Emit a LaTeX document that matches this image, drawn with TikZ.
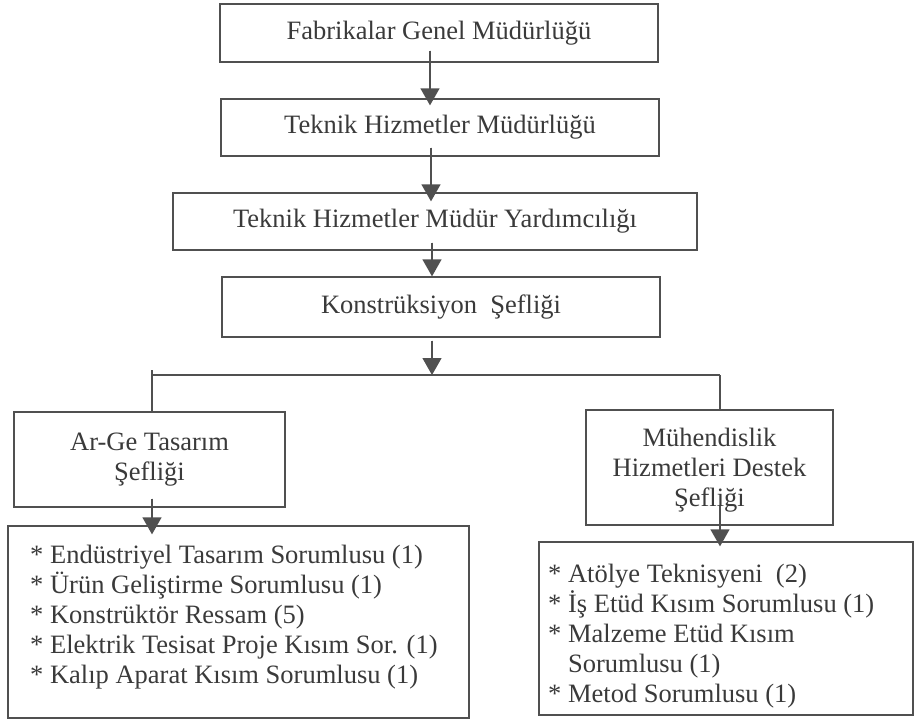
\documentclass[tikz,border=0pt]{standalone}
\usepackage{fontspec}
\setmainfont{Liberation Serif}
\usetikzlibrary{arrows.meta}
\definecolor{ink}{HTML}{3A3A3A}
\definecolor{edge}{HTML}{505050}
\begin{document}
\begin{tikzpicture}[x=1pt,y=-1pt,
  font=\fontsize{26.5}{30}\selectfont,
  box/.style={draw=edge,line width=1.3pt,text=ink,minimum width=#1,inner sep=0pt,align=center},
  listbox/.style={draw=edge,line width=1.3pt,text=ink,inner sep=0pt,align=left},
  conn/.style={draw=edge,line width=1.3pt},
  arr/.style={conn,-{Triangle[width=19pt,length=17pt]},fill=edge}]
\useasboundingbox (0,0) rectangle (914,721);
\node[box=438pt,minimum height=58pt] (B1) at (439,33) {Fabrikalar Genel Müdürlüğü};
\node[box=438pt,minimum height=57pt] (B2) at (440,127.5) {Teknik Hizmetler Müdürlüğü};
\node[box=524pt,minimum height=57pt] (B3) at (435,221.5) {Teknik Hizmetler Müdür Yardımcılığı};
\node[box=438pt,minimum height=60pt] (B4) at (441,307) {Konstrüksiyon\ \ Şefliği};
\node[box=271pt,minimum height=95pt] (AG) at (149.5,459.5)
 {\begin{tabular}{@{}c@{}}Ar-Ge Tasarım\\Şefliği\end{tabular}};
\node[box=247pt,minimum height=115pt] (MH) at (709.5,467.5)
 {\raisebox{-3pt}[\height][\depth]{\begin{tabular}{@{}c@{}}Mühendislik\\Hizmetleri Destek\\Şefliği\end{tabular}}};
\node[listbox,minimum width=461pt,minimum height=192pt] (L1) at (238.5,622) {};
\node[listbox,minimum width=374pt,minimum height=173pt] (L2) at (726,628.5) {};
\node[text=ink,anchor=north west,align=left,inner sep=0pt] (T1) at (30,545)
 {* Endüstriyel Tasarım Sorumlusu (1)\\
  * Ürün Geliştirme Sorumlusu (1)\\
  * Konstrüktör Ressam (5)\\
  * Elektrik Tesisat Proje Kısım Sor. (1)\\
  * Kalıp Aparat Kısım Sorumlusu (1)};
\node[text=ink,anchor=north west,align=left,inner sep=0pt] (T2) at (548,564)
 {* Atölye Teknisyeni\ \ (2)\\
  * İş Etüd Kısım Sorumlusu (1)\\
  * Malzeme Etüd Kısım\\
  \hphantom{*\ }Sorumlusu (1)\\
  * Metod Sorumlusu (1)};
\coordinate (br) at (432,375);
\coordinate (brL) at (152,375);
\coordinate (brR) at (720,375);
\draw[arr] ([xshift=-9pt,yshift=12pt]B1.south) -- ([xshift=-10pt,yshift=-7pt]B2.north);
\draw[arr] ([xshift=-9pt,yshift=9pt]B2.south) -- ([xshift=-4pt,yshift=-9pt]B3.north);
\draw[arr] ([xshift=-3pt,yshift=8pt]B3.south) -- ([xshift=-9pt]B4.north);
\draw[arr] ([xshift=-9pt,yshift=-3pt]B4.south) -- (br);
\draw[conn] ([yshift=5pt]brL) -- (brL) -- (brR);
\draw[conn] ([yshift=5pt]brL) -- (brL |- AG.north);
\draw[conn] (brR) -- (brR |- MH.north);
\draw[arr] ([xshift=2.5pt,yshift=9pt]AG.south) -- ([xshift=-86.5pt,yshift=-9pt]L1.north);
\draw[arr] ([xshift=10.5pt,yshift=20pt]MH.south) -- ([xshift=-6pt,yshift=-5pt]L2.north);
\end{tikzpicture}
\end{document}
